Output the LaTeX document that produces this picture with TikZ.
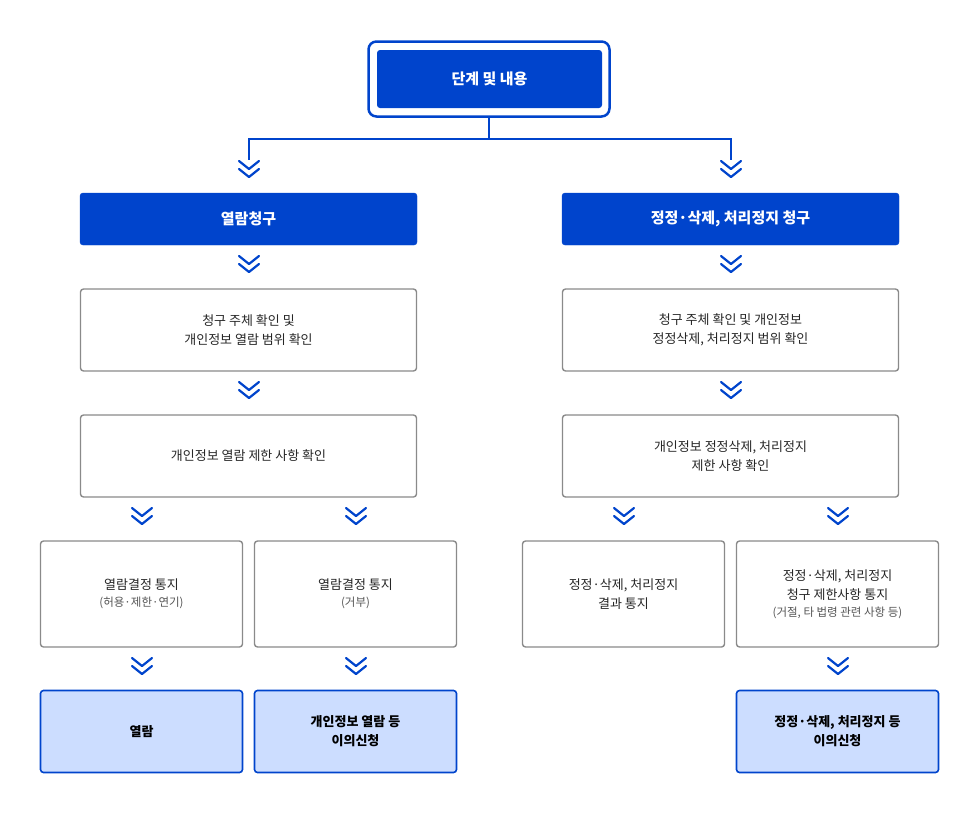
\documentclass[tikz,border=0pt]{standalone}
\usepackage{fontspec}
\setmainfont{Noto Sans CJK KR}
\definecolor{mblue}{HTML}{0044CC}
\definecolor{lblue}{HTML}{CCDDFF}
\definecolor{bgray}{HTML}{8A8A8A}
\definecolor{tgray}{HTML}{555555}
\begin{document}
\begin{tikzpicture}[x=1pt,y=-1pt,
  hdr/.style={fill=mblue,draw=mblue,rounded corners=3pt,text=white,font=\bfseries\fontsize{15}{18}\selectfont,align=center},
  wbox/.style={draw=bgray,line width=1.4pt,rounded corners=3pt,fill=white,font=\fontsize{13}{19}\selectfont,align=center,text=black!85},
  lbox/.style={draw=mblue,line width=1.6pt,rounded corners=3pt,fill=lblue,font=\bfseries\fontsize{13}{19}\selectfont,align=center},
  sub/.style={font=\fontsize{11.5}{16}\selectfont,text=tgray},
  chev/.pic={\draw[mblue,line width=2.2pt,line cap=round,line join=round] (-10,-11)--(0,-3)--(10,-11) (-10,-3)--(0,5)--(10,-3);},
  conn/.style={mblue,line width=1.5pt}]
\useasboundingbox (0,0) rectangle (980,814);
\node[draw=mblue,line width=2.5pt,rounded corners=8pt,minimum width=241pt,minimum height=75pt] (outer) at (489,79) {};
\node[fill=mblue,rounded corners=3pt,minimum width=225pt,minimum height=58pt,text=white,font=\bfseries\fontsize{15}{18}\selectfont] (top) at (489.5,79) {단계 및 내용};
\coordinate (jl) at (249,139); \coordinate (jr) at (731,139);
\coordinate (el) at (249,160); \coordinate (er) at (731,160);
\draw[conn] (outer.south) -- (489,139) -- (jl) -- (el);
\draw[conn] (489,139) -- (jr) -- (er);
\pic at (249,172) {chev}; \pic at (731,172) {chev};
\node[hdr,minimum width=337pt,minimum height=52pt] (h1) at (248.5,219) {열람청구};
\node[hdr,minimum width=337pt,minimum height=52pt] (h2) at (730.5,219) {정정·삭제, 처리정지 청구};
\pic at (249,267) {chev}; \pic at (731,267) {chev};
\node[wbox,minimum width=336pt,minimum height=82pt] (a2) at (248.5,330) {청구 주체 확인 및\\개인정보 열람 범위 확인};
\node[wbox,minimum width=336pt,minimum height=82pt] (b2) at (730.5,330) {청구 주체 확인 및 개인정보\\정정삭제, 처리정지 범위 확인};
\pic at (249,393) {chev}; \pic at (731,393) {chev};
\node[wbox,minimum width=336pt,minimum height=82pt] (a3) at (248.5,456) {개인정보 열람 제한 사항 확인};
\node[wbox,minimum width=336pt,minimum height=82pt] (b3) at (730.5,456) {개인정보 정정삭제, 처리정지\\제한 사항 확인};
\foreach \x in {142,356,624,838} \pic at (\x,519) {chev};
\node[wbox,minimum width=202pt,minimum height=106pt] (a4) at (141.5,594) {열람결정 통지\\[-2pt]{\sffamily\rmfamily\fontsize{11.5}{16}\selectfont\color{tgray}(허용·제한·연기)}};
\node[wbox,minimum width=202pt,minimum height=106pt] (c4) at (355.5,594) {열람결정 통지\\[-2pt]{\fontsize{11.5}{16}\selectfont\color{tgray}(거부)}};
\node[wbox,minimum width=202pt,minimum height=106pt] (d4) at (623.5,594) {정정·삭제, 처리정지\\결과 통지};
\node[wbox,minimum width=202pt,minimum height=106pt] (e4) at (837.5,594) {정정·삭제, 처리정지\\청구 제한사항 통지\\[-2pt]{\fontsize{11.5}{16}\selectfont\color{tgray}(거절, 타 법령 관련 사항 등)}};
\foreach \x in {142,356,838} \pic at (\x,669) {chev};
\node[lbox,minimum width=202pt,minimum height=82pt] (a5) at (141.5,731.5) {열람};
\node[lbox,minimum width=202pt,minimum height=82pt] (c5) at (355.5,731.5) {개인정보 열람 등\\이의신청};
\node[lbox,minimum width=202pt,minimum height=82pt] (e5) at (837.5,731.5) {정정·삭제, 처리정지 등\\이의신청};
\end{tikzpicture}
\end{document}
